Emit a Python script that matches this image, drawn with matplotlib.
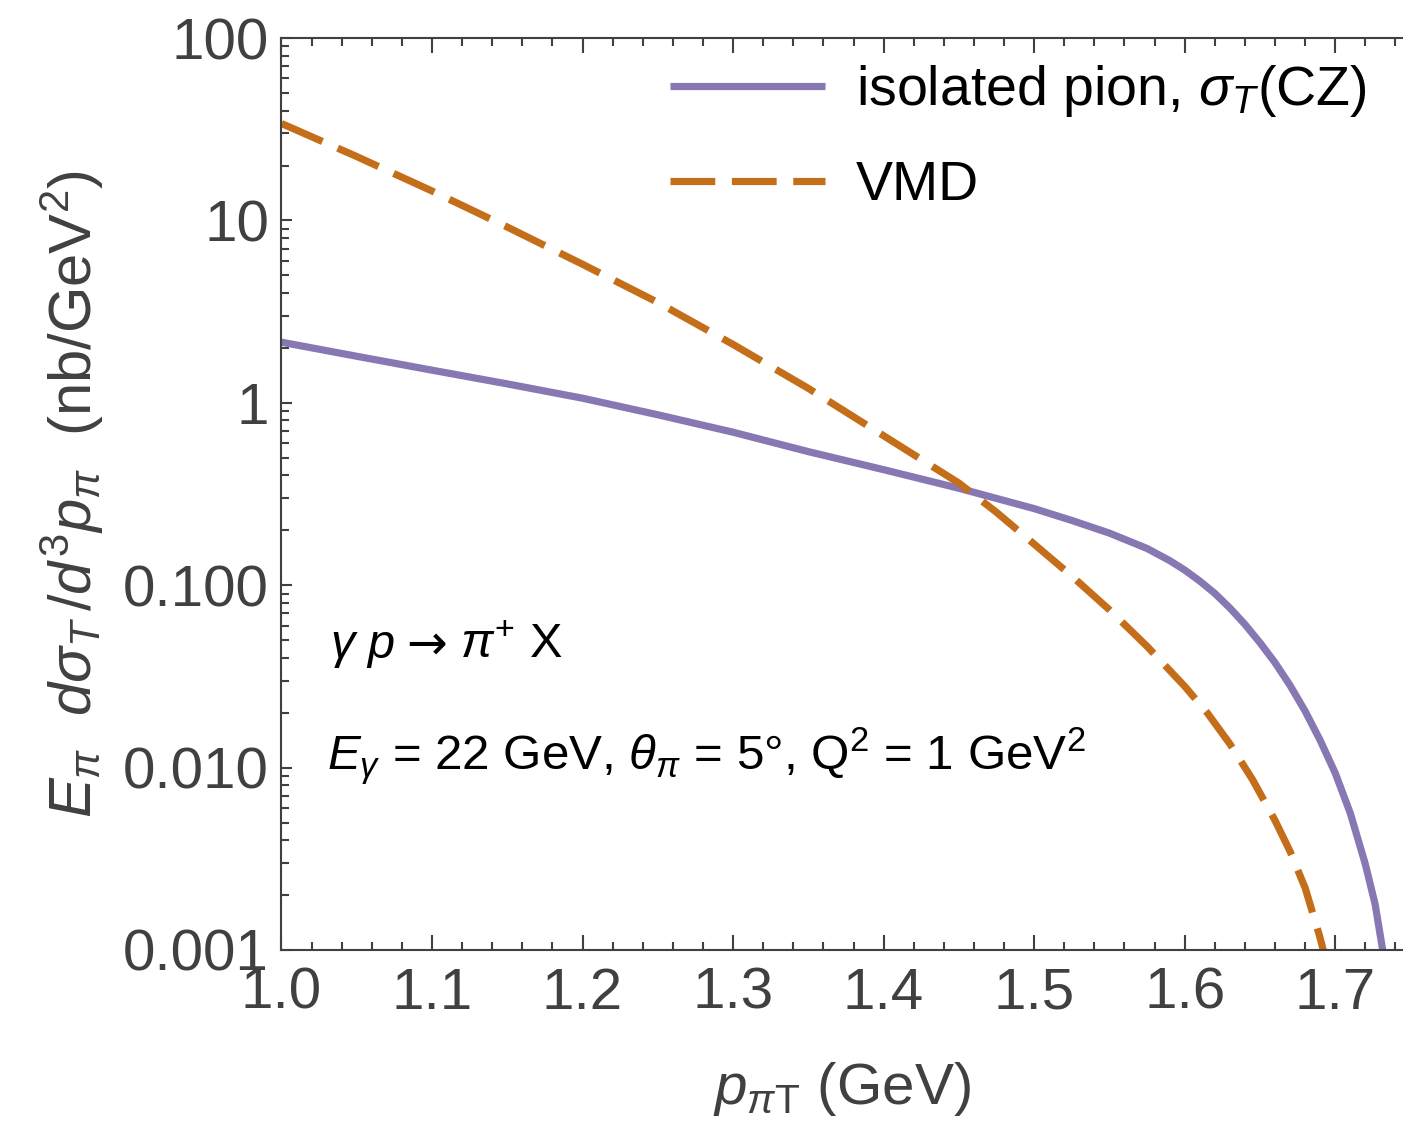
import matplotlib
matplotlib.use("Agg")
import matplotlib.pyplot as plt
from matplotlib.ticker import FixedLocator, NullFormatter

# values
pt_cz = [1.0, 1.05, 1.1, 1.15, 1.2, 1.25, 1.3, 1.35, 1.4, 1.45, 1.5, 1.525,
         1.55, 1.575, 1.59, 1.6, 1.61, 1.62, 1.63, 1.64, 1.65, 1.66, 1.67,
         1.68, 1.69, 1.7, 1.71, 1.72, 1.7265, 1.7315]
xs_cz = [2.15, 1.80, 1.51, 1.27, 1.06, 0.86, 0.69, 0.54, 0.43, 0.34, 0.263, 0.2265,
         0.193, 0.159, 0.1365, 0.1211, 0.1054, 0.0902, 0.0750, 0.0610, 0.0484, 0.0376,
         0.0282, 0.0204, 0.0141, 0.00933, 0.00562, 0.00295, 0.00178, 0.001]

pt_vmd = [1.0, 1.05, 1.1, 1.15, 1.2, 1.25, 1.3, 1.35, 1.4, 1.45, 1.475, 1.5, 1.525,
          1.55, 1.575, 1.6, 1.615, 1.63, 1.645, 1.66, 1.67, 1.68, 1.6895, 1.692]
xs_vmd = [34.0, 22.4, 14.5, 9.2, 5.75, 3.55, 2.09, 1.20, 0.66, 0.363, 0.251, 0.168, 0.1122,
          0.0733, 0.0462, 0.0279, 0.01995, 0.01349, 0.00861, 0.00513, 0.00347, 0.00219,
          0.00120, 0.001]

x_ticks = [1.0, 1.1, 1.2, 1.3, 1.4, 1.5, 1.6, 1.7]
y_ticks = [0.001, 0.01, 0.1, 1, 10, 100]
y_ticklabels = ["0.001", "0.010", "0.100", "1", "10", "100"]

labels = [r"isolated pion, $\sigma_T$(CZ)", "VMD"]
colors = ["#8778B3", "#C56E1A"]

AX_COLOR = "#404040"

plt.rcParams["font.family"] = ["Liberation Sans", "DejaVu Sans"]
plt.rcParams["mathtext.fontset"] = "custom"
plt.rcParams["mathtext.rm"] = "Liberation Sans"
plt.rcParams["mathtext.it"] = "Liberation Sans:italic"
plt.rcParams["mathtext.bf"] = "Liberation Sans:bold"

fig = plt.figure(figsize=(14.03, 11.22), dpi=100)
ax = fig.add_axes([0.2006, 0.1533, 0.7994, 0.8128])

ax.plot(pt_cz, xs_cz, color=colors[0], lw=5.2, label=labels[0],
        solid_capstyle="butt", solid_joinstyle="round")
ax.plot(pt_vmd, xs_vmd, color=colors[1], lw=5.2, label=labels[1],
        dashes=(6.2, 2.3), dash_capstyle="butt")

ax.set_yscale("log")
ax.set_xlim(1.0, 1.745)
ax.set_ylim(0.001, 100)

ax.set_xticks(x_ticks)
ax.set_xticklabels(["%.1f" % v for v in x_ticks])
ax.xaxis.set_minor_locator(FixedLocator([1.0 + 0.02 * i for i in range(38)]))
ax.set_yticks(y_ticks)
ax.set_yticklabels(y_ticklabels)
minor_y = [m * 10.0 ** e for e in range(-3, 2) for m in range(2, 10)]
ax.yaxis.set_minor_locator(FixedLocator(minor_y))
ax.yaxis.set_minor_formatter(NullFormatter())

ax.tick_params(axis="both", which="both", direction="in", color=AX_COLOR,
               labelcolor=AX_COLOR, labelsize=42, width=1.5)
ax.tick_params(axis="x", which="both", top=True, bottom=True, pad=12)
ax.tick_params(axis="y", pad=9)
ax.tick_params(axis="x", which="major", length=10.5)
ax.tick_params(axis="x", which="minor", length=6)
ax.tick_params(axis="y", which="major", length=8, right=False)
ax.tick_params(axis="y", which="minor", length=6, right=False)

for side in ("left", "bottom", "top"):
    ax.spines[side].set_color(AX_COLOR)
    ax.spines[side].set_linewidth(1.5)
ax.spines["right"].set_visible(False)

ax.set_xlabel(r"$p_{\pi\mathrm{T}}$ (GeV)", fontsize=42, color=AX_COLOR, labelpad=28)
ax.set_ylabel(r"$E_\pi\ \ d\sigma_T\,/d^3p_\pi$  (nb/GeV$^2$)", fontsize=43,
              color=AX_COLOR, labelpad=12)

# reaction, drawn in pieces so the arrow gets a full-size glyph
ax.text(0.043, 0.320, r"$\gamma\ p$", transform=ax.transAxes,
        fontsize=35, color="black", va="baseline")
ax.text(0.1115, 0.320, "\u2192", transform=ax.transAxes, family="DejaVu Sans",
        fontsize=35, color="black", va="baseline")
ax.text(0.159, 0.320, r"$\pi^{+}$ X", transform=ax.transAxes,
        fontsize=35, color="black", va="baseline")
ax.text(0.041, 0.197, r"$E_\gamma$ = 22 GeV, $\theta_\pi$ = 5°, Q$^2$ = 1 GeV$^2$",
        transform=ax.transAxes, fontsize=35.5, color="black", va="baseline")

leg = ax.legend(loc="upper right", frameon=False, fontsize=40,
                handlelength=2.8, handletextpad=0.55, labelspacing=0.74,
                borderaxespad=0.12, bbox_to_anchor=(0.993, 1.004))
for t in leg.get_texts():
    t.set_color("black")

fig.savefig("out.png", dpi=100)
